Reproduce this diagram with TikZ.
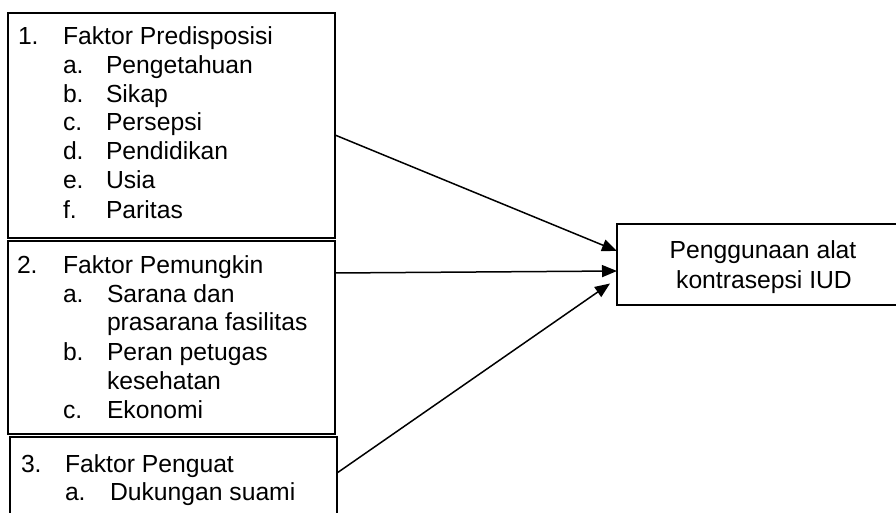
\documentclass[tikz,border=0pt]{standalone}
\usepackage{fontspec}
\setmainfont{Liberation Sans}
\usetikzlibrary{arrows.meta}
\begin{document}
\begin{tikzpicture}[x=1pt,y=-1pt,
  box/.style={draw=black, line width=1.6pt, rectangle, inner sep=0pt, outer sep=0pt},
  txt/.style={anchor=base west, inner sep=0pt, outer sep=0pt, font=\fontsize{24.7}{28.7}\selectfont},
  ctxt/.style={anchor=base, inner sep=0pt, outer sep=0pt, font=\fontsize{24.7}{28.7}\selectfont},
  conn/.style={line width=1.5pt, -{Triangle[length=15pt,width=12pt]}}]
\clip (0,0) rectangle (896,513);
\fill[white] (0,0) rectangle (896,513);
% boxes
\node[box, minimum width=327pt, minimum height=225pt] (b1) at (171.5,125.5) {};
\node[box, minimum width=327pt, minimum height=193pt] (b2) at (171.5,337.5) {};
\node[box, minimum width=327pt, minimum height=100pt] (b3) at (173.5,487) {};
\node[box, minimum width=290pt, minimum height=81pt] (r) at (762,264.5) {};
% box 1 text
\node[txt] (n1) at (18,45) {1.};
\node[txt] (t1) at (63,45) {Faktor Predisposisi};
\node[txt] (l1a) at (63,74) {a.};
\node[txt] (t1a) at (106,74) {Pengetahuan};
\node[txt] (l1b) at (63,103) {b.};
\node[txt] (t1b) at (106,103) {Sikap};
\node[txt] (l1c) at (63,131) {c.};
\node[txt] (t1c) at (106,131) {Persepsi};
\node[txt] (l1d) at (63,160) {d.};
\node[txt] (t1d) at (106,160) {Pendidikan};
\node[txt] (l1e) at (63,189) {e.};
\node[txt] (t1e) at (106,189) {Usia};
\node[txt] (l1f) at (63,218) {f.};
\node[txt] (t1f) at (106,218) {Paritas};
% box 2 text
\node[txt] (n2) at (17,273) {2.};
\node[txt] (t2) at (63,273) {Faktor Pemungkin};
\node[txt] (l2a) at (63,302) {a.};
\node[txt] (t2a) at (107,302) {Sarana dan};
\node[txt] (t2a2) at (107,330) {prasarana fasilitas};
\node[txt] (l2b) at (63,360) {b.};
\node[txt] (t2b) at (107,360) {Peran petugas};
\node[txt] (t2b2) at (107,389) {kesehatan};
\node[txt] (l2c) at (63,418) {c.};
\node[txt] (t2c) at (107,418) {Ekonomi};
% box 3 text
\node[txt] (n3) at (21,472) {3.};
\node[txt] (t3) at (65,472) {Faktor Penguat};
\node[txt] (l3a) at (65,500) {a.};
\node[txt] (t3a) at (110,500) {Dukungan suami};
% right box text
\node[ctxt] (r1) at (763,258) {Penggunaan alat};
\node[ctxt] (r2) at (764,288) {kontrasepsi IUD};
% connectors
\draw[conn] ([yshift=-9.5pt]b1.east) -- ([yshift=13.5pt]r.west);
\draw[conn] ([yshift=64.5pt]b2.east) -- ([yshift=-6.5pt]r.west);
\draw[conn] ([yshift=14pt]b3.east) -- ([xshift=-7pt,yshift=-19pt]r.west);
\end{tikzpicture}
\end{document}
